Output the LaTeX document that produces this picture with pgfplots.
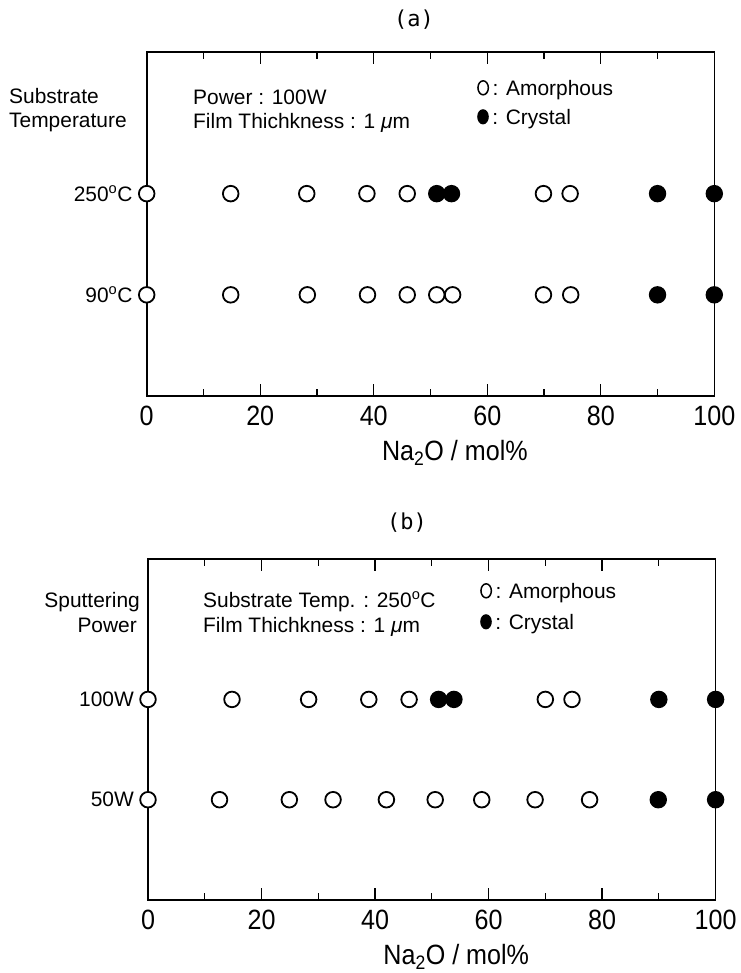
\documentclass[border=0pt]{standalone}
\usepackage{pgfplots}
\pgfplotsset{compat=1.18}
\usepackage{fontspec}
\setmainfont{Liberation Sans}
\newfontfamily\tickfont{Liberation Sans}[FakeStretch=0.9]
\newfontfamily\monofont{DejaVu Sans Mono}
\newcommand{\lbl}{\fontsize{21}{25}\selectfont}
\newcommand{\tk}{\tickfont\fontsize{28}{32}\selectfont}
\newcommand{\openO}{\tikz[baseline=0pt]\draw[line width=1.5bp] (0,7.2bp) ellipse (5.2bp and 7bp);}
\newcommand{\fillO}{\tikz[baseline=0pt]\fill (0,7.2bp) ellipse (5.8bp and 7.6bp);}
\pgfplotsset{
  panel/.style={
    scale only axis, width=567.6bp, height=344bp,
    xmin=0, xmax=100, ymin=0, ymax=3.4,
    xtick={0,20,...,100}, minor x tick num=1,
    major tick length=12bp, minor tick length=7bp,
    tick align=inside,
    /pgf/number format/assume math mode=true,
    axis line style={line width=1.6bp},
    every tick/.style={line width=1.3bp, black},
    ytick={1,2}, ytick style={draw=none},
    xticklabel style={font=\tk, inner sep=0pt, anchor=north, yshift=-10bp},
    yticklabel style={font=\lbl, inner sep=0pt, anchor=east, xshift=-14bp},
    xlabel={Na\textsubscript{2}O / mol\%},
    xlabel style={font=\tk, at={(axis description cs:0.543,0)}, anchor=base, yshift=-64bp, inner sep=0pt},
    clip=false,
  },
  amor/.style={only marks, mark=*, mark size=7.8bp, mark options={fill=white, draw=black, line width=1.8bp}},
  crys/.style={only marks, mark=*, mark size=7.8bp, mark options={fill=black, draw=black, line width=1.8bp}},
}
\begin{document}
\begin{tikzpicture}
\useasboundingbox (0,0) rectangle (741bp,-973bp);
% ---------- panel (a)
\begin{axis}[panel, at={(146.7bp,-396bp)}, anchor=south west,
  yticklabels={90\textsuperscript{o}C, 250\textsuperscript{o}C}]
\addplot[amor] coordinates {(0,2) (14.8,2) (28.2,2) (38.8,2) (45.9,2) (69.9,2) (74.6,2)};
\addplot[crys] coordinates {(51.1,2) (53.7,2) (90,2) (100,2)};
\addplot[amor] coordinates {(0,1) (14.8,1) (28.3,1) (38.9,1) (45.9,1) (51.1,1) (53.9,1) (69.9,1) (74.7,1)};
\addplot[crys] coordinates {(90,1) (100,1)};
\end{axis}
% ---------- panel (b)
\begin{axis}[panel, height=341bp, at={(148bp,-900bp)}, anchor=south west,
  yticklabels={50W, 100W}]
\addplot[amor] coordinates {(0,2) (14.8,2) (28.3,2) (38.9,2) (46.0,2) (70.0,2) (74.7,2)};
\addplot[crys] coordinates {(51.2,2) (53.9,2) (90,2) (100,2)};
\addplot[amor] coordinates {(0,1) (12.6,1) (24.9,1) (32.6,1) (42.0,1) (50.6,1) (58.8,1) (68.2,1) (77.8,1)};
\addplot[crys] coordinates {(89.9,1) (100,1)};
\end{axis}
% ---------- texts (a)
\node[font=\monofont\fontsize{22}{26}\selectfont] at (414bp,-20bp) {(a)};
\node[font=\lbl, anchor=base west, inner sep=0pt] at (9bp,-103bp) {Substrate};
\node[font=\lbl, anchor=base west, inner sep=0pt] at (9bp,-127bp) {Temperature};
\node[font=\lbl, anchor=base west, inner sep=0pt] at (193bp,-104bp) {Power : 100W};
\node[font=\lbl, anchor=base west, inner sep=0pt] at (193bp,-128bp) {Film Thichkness : 1 {\itshape μ}m};
\node[font=\lbl, anchor=base west, inner sep=0pt] at (477bp,-95bp) {\openO\,: Amorphous};
\node[font=\lbl, anchor=base west, inner sep=0pt] at (477bp,-124bp) {\fillO\,: Crystal};
% ---------- texts (b)
\node[font=\monofont\fontsize{22}{26}\selectfont] at (407bp,-523bp) {(b)};
\node[font=\lbl, anchor=base east, inner sep=0pt] at (140bp,-607bp) {Sputtering};
\node[font=\lbl, anchor=base east, inner sep=0pt] at (137bp,-632bp) {Power};
\node[font=\lbl, anchor=base west, inner sep=0pt] at (203bp,-607bp) {Substrate Temp. : 250\textsuperscript{o}C};
\node[font=\lbl, anchor=base west, inner sep=0pt] at (203bp,-632bp) {Film Thichkness : 1 {\itshape μ}m};
\node[font=\lbl, anchor=base west, inner sep=0pt] at (480bp,-598bp) {\openO\,: Amorphous};
\node[font=\lbl, anchor=base west, inner sep=0pt] at (480bp,-629bp) {\fillO\,: Crystal};
\end{tikzpicture}
\end{document}
